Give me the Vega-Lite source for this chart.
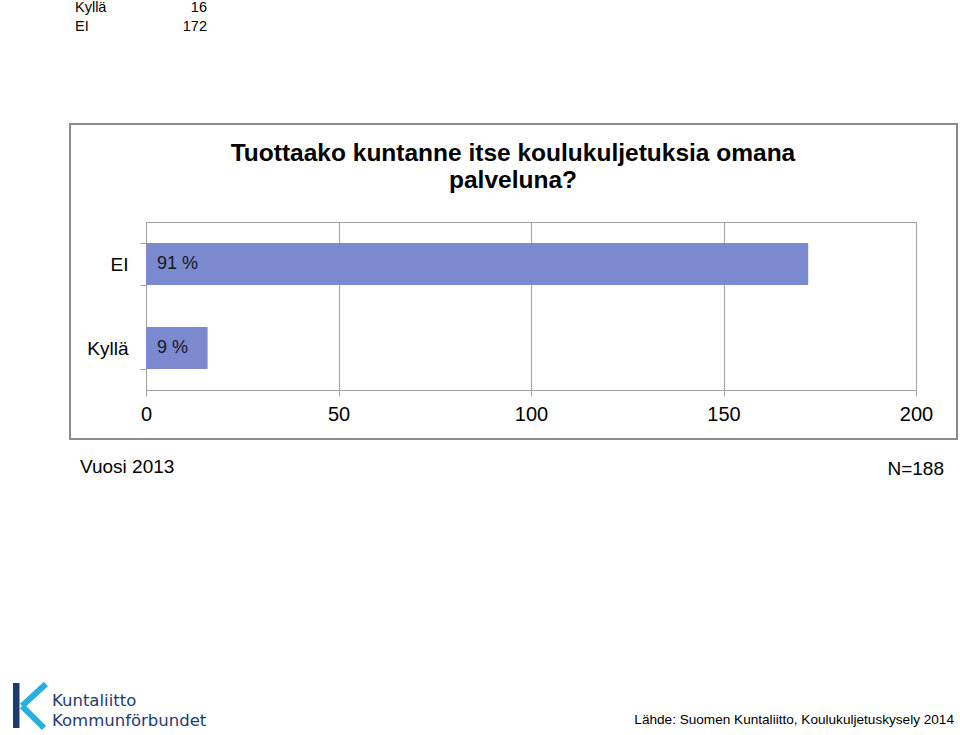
{
  "$schema": "https://vega.github.io/schema/vega-lite/v6.json",
  "width": 770,
  "height": 168,
  "autosize": "none",
  "padding": {"left": 146, "top": 222, "right": 44, "bottom": 345},
  "background": "white",
  "config": {
    "view": {"stroke": "#a0a0a0", "strokeWidth": 1},
    "font": "Liberation Sans",
    "text": {"font": "Liberation Sans"}
  },
  "data": {"values": [
    {"answer": "EI", "count": 172, "pct": "91 %"},
    {"answer": "Kyllä", "count": 16, "pct": "9 %"}
  ]},
  "resolve": {"scale": {"y": "independent"}, "axis": {"x": "independent", "y": "independent"}},
  "layer": [
    {
      "layer": [
        {
          "mark": {"type": "bar", "color": "#7B8ACE"},
          "encoding": {
            "y": {
              "field": "answer", "type": "nominal", "sort": ["EI", "Kyllä"],
              "scale": {"paddingInner": 0.5, "paddingOuter": 0.25},
              "axis": {
                "title": null, "tickBand": "extent", "tickSize": 6, "tickColor": "#a0a0a0",
                "domainColor": "#a0a0a0", "labelFontSize": 19, "labelColor": "#000000",
                "labelPadding": 12, "labelFont": "Liberation Sans", "grid": false
              }
            },
            "x": {
              "field": "count", "type": "quantitative",
              "scale": {"domain": [0, 200], "nice": false},
              "axis": {
                "title": null, "values": [0, 50, 100, 150, 200], "tickSize": 6,
                "tickColor": "#a0a0a0", "domainColor": "#a0a0a0", "gridColor": "#a0a0a0",
                "grid": true, "labelFontSize": 20, "labelColor": "#000000",
                "labelPadding": 8, "labelFont": "Liberation Sans", "labelFlush": false
              }
            }
          }
        },
        {
          "mark": {"type": "text", "align": "left", "baseline": "middle", "dx": 11, "fontSize": 18, "color": "#151528"},
          "encoding": {
            "y": {"field": "answer", "type": "nominal", "sort": ["EI", "Kyllä"]},
            "x": {"datum": 0, "type": "quantitative", "title": null},
            "text": {"field": "pct"}
          }
        }
      ]
    },
    {
      "layer": [
        {
          "data": {"values": [{}]},
          "mark": {"type": "rect", "fillOpacity": 0, "stroke": "#8c8c8c", "strokeWidth": 2},
          "encoding": {
            "x": {"datum": -19.74, "type": "quantitative", "axis": null},
            "x2": {"datum": 210.65},
            "y": {"datum": -1.1667, "type": "quantitative", "scale": {"domain": [0, 2], "reverse": true, "nice": false, "zero": false}, "axis": null},
            "y2": {"datum": 2.5833}
          }
        },
        {
          "data": {"values": [{}]},
          "mark": {"type": "text", "align": "center", "baseline": "alphabetic", "fontSize": 24.5, "fontWeight": "bold", "lineHeight": 27, "color": "#000000"},
          "encoding": {
            "x": {"datum": 95.32, "type": "quantitative", "axis": null},
            "y": {"datum": -0.7262, "type": "quantitative", "scale": {"domain": [0, 2], "reverse": true, "nice": false, "zero": false}, "axis": null},
            "text": {"value": ["Tuottaako kuntanne itse koulukuljetuksia omana", "palveluna?"]}
          }
        },
        {
          "transform": [{"filter": "datum.answer === 'Kyllä'"}],
          "mark": {"type": "text", "align": "left", "baseline": "alphabetic", "fontSize": 14.5, "color": "#000000"},
          "encoding": {
            "x": {"datum": -18.44, "type": "quantitative", "axis": null},
            "y": {"datum": -2.5, "type": "quantitative", "scale": {"domain": [0, 2], "reverse": true, "nice": false, "zero": false}, "axis": null},
            "text": {"field": "answer"}
          }
        },
        {
          "transform": [{"filter": "datum.answer === 'Kyllä'"}],
          "mark": {"type": "text", "align": "right", "baseline": "alphabetic", "fontSize": 14.5, "color": "#000000"},
          "encoding": {
            "x": {"datum": 15.84, "type": "quantitative", "axis": null},
            "y": {"datum": -2.5, "type": "quantitative", "scale": {"domain": [0, 2], "reverse": true, "nice": false, "zero": false}, "axis": null},
            "text": {"field": "count"}
          }
        },
        {
          "transform": [{"filter": "datum.answer === 'EI'"}],
          "mark": {"type": "text", "align": "left", "baseline": "alphabetic", "fontSize": 14.5, "color": "#000000"},
          "encoding": {
            "x": {"datum": -18.44, "type": "quantitative", "axis": null},
            "y": {"datum": -2.274, "type": "quantitative", "scale": {"domain": [0, 2], "reverse": true, "nice": false, "zero": false}, "axis": null},
            "text": {"field": "answer"}
          }
        },
        {
          "transform": [{"filter": "datum.answer === 'EI'"}],
          "mark": {"type": "text", "align": "right", "baseline": "alphabetic", "fontSize": 14.5, "color": "#000000"},
          "encoding": {
            "x": {"datum": 15.84, "type": "quantitative", "axis": null},
            "y": {"datum": -2.274, "type": "quantitative", "scale": {"domain": [0, 2], "reverse": true, "nice": false, "zero": false}, "axis": null},
            "text": {"field": "count"}
          }
        },
        {
          "data": {"values": [{}]},
          "mark": {"type": "text", "align": "left", "baseline": "alphabetic", "fontSize": 19, "color": "#000000"},
          "encoding": {
            "x": {"datum": -17.14, "type": "quantitative", "axis": null},
            "y": {"datum": 2.99, "type": "quantitative", "scale": {"domain": [0, 2], "reverse": true, "nice": false, "zero": false}, "axis": null},
            "text": {"value": "Vuosi 2013"}
          }
        },
        {
          "data": {"values": [{}]},
          "mark": {"type": "text", "align": "right", "baseline": "alphabetic", "fontSize": 19, "color": "#000000"},
          "encoding": {
            "x": {"datum": 207.27, "type": "quantitative", "axis": null},
            "y": {"datum": 3.014, "type": "quantitative", "scale": {"domain": [0, 2], "reverse": true, "nice": false, "zero": false}, "axis": null},
            "text": {"value": "N=188"}
          }
        },
        {
          "data": {"values": [{}]},
          "mark": {"type": "text", "align": "right", "baseline": "alphabetic", "fontSize": 13.6, "color": "#000000"},
          "encoding": {
            "x": {"datum": 209.87, "type": "quantitative", "axis": null},
            "y": {"datum": 5.976, "type": "quantitative", "scale": {"domain": [0, 2], "reverse": true, "nice": false, "zero": false}, "axis": null},
            "text": {"value": "Lähde: Suomen Kuntaliitto, Koulukuljetuskysely 2014"}
          }
        },
        {
          "data": {"values": [{}]},
          "mark": {"type": "rect", "color": "#1d3a75"},
          "encoding": {
            "x": {"datum": -34.545, "type": "quantitative", "axis": null},
            "x2": {"datum": -32.857},
            "y": {"datum": 5.4881, "type": "quantitative", "scale": {"domain": [0, 2], "reverse": true, "nice": false, "zero": false}, "axis": null},
            "y2": {"datum": 6.0238}
          }
        },
        {
          "data": {"values": [{}]},
          "mark": {"type": "rule", "color": "#29aee0", "strokeWidth": 6, "strokeCap": "butt"},
          "encoding": {
            "x": {"datum": -26.0, "type": "quantitative", "axis": null},
            "x2": {"datum": -32.2},
            "y": {"datum": 5.5, "type": "quantitative", "scale": {"domain": [0, 2], "reverse": true, "nice": false, "zero": false}, "axis": null},
            "y2": {"datum": 5.762}
          }
        },
        {
          "data": {"values": [{}]},
          "mark": {"type": "rule", "color": "#29aee0", "strokeWidth": 6, "strokeCap": "butt"},
          "encoding": {
            "x": {"datum": -32.2, "type": "quantitative", "axis": null},
            "x2": {"datum": -26.5},
            "y": {"datum": 5.762, "type": "quantitative", "scale": {"domain": [0, 2], "reverse": true, "nice": false, "zero": false}, "axis": null},
            "y2": {"datum": 6.0238}
          }
        },
        {
          "data": {"values": [{}]},
          "mark": {"type": "text", "align": "left", "baseline": "alphabetic", "fontSize": 16.5, "lineHeight": 20, "font": "DejaVu Sans", "color": "#1f3b73"},
          "encoding": {
            "x": {"datum": -24.42, "type": "quantitative", "axis": null},
            "y": {"datum": 5.7619, "type": "quantitative", "scale": {"domain": [0, 2], "reverse": true, "nice": false, "zero": false}, "axis": null},
            "text": {"value": ["Kuntaliitto", "Kommunförbundet"]}
          }
        }
      ]
    }
  ]
}
